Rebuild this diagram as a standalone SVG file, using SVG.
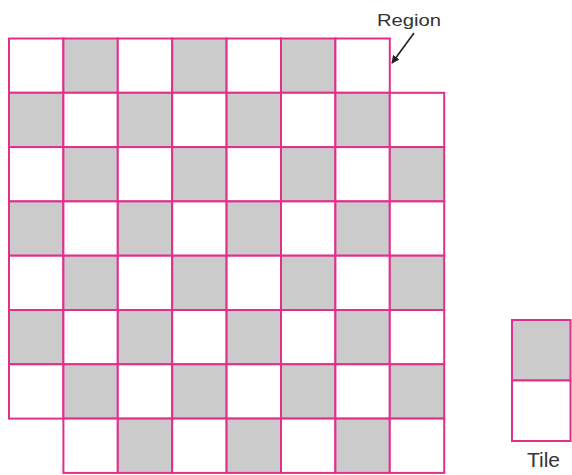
<svg xmlns="http://www.w3.org/2000/svg" width="572" height="475" viewBox="0 0 572 475">
<style>
.w{fill:#ffffff;stroke:#e0308c;stroke-width:2}
.g{fill:#cbcbcb;stroke:#e0308c;stroke-width:2}
.lbl{font-family:"Liberation Sans",Arial,sans-serif;fill:#333333}
</style>
<defs>
<marker id="ah" viewBox="0 0 10 10" refX="9" refY="5" markerWidth="8" markerHeight="8" orient="auto" markerUnits="userSpaceOnUse">
<path d="M0,0 L10,5 L0,10 z" fill="#222222"/>
</marker>
</defs>
<rect width="572" height="475" fill="#ffffff"/>
<g id="region">
<!-- row 0 -->
<rect class="w" x="9" y="38.5" width="54.4" height="54.3"/>
<rect class="g" x="63.4" y="38.5" width="54.4" height="54.3"/>
<rect class="w" x="117.8" y="38.5" width="54.4" height="54.3"/>
<rect class="g" x="172.2" y="38.5" width="54.4" height="54.3"/>
<rect class="w" x="226.6" y="38.5" width="54.4" height="54.3"/>
<rect class="g" x="281" y="38.5" width="54.4" height="54.3"/>
<rect class="w" x="335.4" y="38.5" width="54.4" height="54.3"/>
<!-- row 1 -->
<rect class="g" x="9" y="92.8" width="54.4" height="54.3"/>
<rect class="w" x="63.4" y="92.8" width="54.4" height="54.3"/>
<rect class="g" x="117.8" y="92.8" width="54.4" height="54.3"/>
<rect class="w" x="172.2" y="92.8" width="54.4" height="54.3"/>
<rect class="g" x="226.6" y="92.8" width="54.4" height="54.3"/>
<rect class="w" x="281" y="92.8" width="54.4" height="54.3"/>
<rect class="g" x="335.4" y="92.8" width="54.4" height="54.3"/>
<rect class="w" x="389.8" y="92.8" width="54.4" height="54.3"/>
<!-- row 2 -->
<rect class="w" x="9" y="147.1" width="54.4" height="54.3"/>
<rect class="g" x="63.4" y="147.1" width="54.4" height="54.3"/>
<rect class="w" x="117.8" y="147.1" width="54.4" height="54.3"/>
<rect class="g" x="172.2" y="147.1" width="54.4" height="54.3"/>
<rect class="w" x="226.6" y="147.1" width="54.4" height="54.3"/>
<rect class="g" x="281" y="147.1" width="54.4" height="54.3"/>
<rect class="w" x="335.4" y="147.1" width="54.4" height="54.3"/>
<rect class="g" x="389.8" y="147.1" width="54.4" height="54.3"/>
<!-- row 3 -->
<rect class="g" x="9" y="201.4" width="54.4" height="54.3"/>
<rect class="w" x="63.4" y="201.4" width="54.4" height="54.3"/>
<rect class="g" x="117.8" y="201.4" width="54.4" height="54.3"/>
<rect class="w" x="172.2" y="201.4" width="54.4" height="54.3"/>
<rect class="g" x="226.6" y="201.4" width="54.4" height="54.3"/>
<rect class="w" x="281" y="201.4" width="54.4" height="54.3"/>
<rect class="g" x="335.4" y="201.4" width="54.4" height="54.3"/>
<rect class="w" x="389.8" y="201.4" width="54.4" height="54.3"/>
<!-- row 4 -->
<rect class="w" x="9" y="255.7" width="54.4" height="54.3"/>
<rect class="g" x="63.4" y="255.7" width="54.4" height="54.3"/>
<rect class="w" x="117.8" y="255.7" width="54.4" height="54.3"/>
<rect class="g" x="172.2" y="255.7" width="54.4" height="54.3"/>
<rect class="w" x="226.6" y="255.7" width="54.4" height="54.3"/>
<rect class="g" x="281" y="255.7" width="54.4" height="54.3"/>
<rect class="w" x="335.4" y="255.7" width="54.4" height="54.3"/>
<rect class="g" x="389.8" y="255.7" width="54.4" height="54.3"/>
<!-- row 5 -->
<rect class="g" x="9" y="310" width="54.4" height="54.3"/>
<rect class="w" x="63.4" y="310" width="54.4" height="54.3"/>
<rect class="g" x="117.8" y="310" width="54.4" height="54.3"/>
<rect class="w" x="172.2" y="310" width="54.4" height="54.3"/>
<rect class="g" x="226.6" y="310" width="54.4" height="54.3"/>
<rect class="w" x="281" y="310" width="54.4" height="54.3"/>
<rect class="g" x="335.4" y="310" width="54.4" height="54.3"/>
<rect class="w" x="389.8" y="310" width="54.4" height="54.3"/>
<!-- row 6 -->
<rect class="w" x="9" y="364.3" width="54.4" height="54.3"/>
<rect class="g" x="63.4" y="364.3" width="54.4" height="54.3"/>
<rect class="w" x="117.8" y="364.3" width="54.4" height="54.3"/>
<rect class="g" x="172.2" y="364.3" width="54.4" height="54.3"/>
<rect class="w" x="226.6" y="364.3" width="54.4" height="54.3"/>
<rect class="g" x="281" y="364.3" width="54.4" height="54.3"/>
<rect class="w" x="335.4" y="364.3" width="54.4" height="54.3"/>
<rect class="g" x="389.8" y="364.3" width="54.4" height="54.3"/>
<!-- row 7 -->
<rect class="w" x="63.4" y="418.6" width="54.4" height="54.3"/>
<rect class="g" x="117.8" y="418.6" width="54.4" height="54.3"/>
<rect class="w" x="172.2" y="418.6" width="54.4" height="54.3"/>
<rect class="g" x="226.6" y="418.6" width="54.4" height="54.3"/>
<rect class="w" x="281" y="418.6" width="54.4" height="54.3"/>
<rect class="g" x="335.4" y="418.6" width="54.4" height="54.3"/>
<rect class="w" x="389.8" y="418.6" width="54.4" height="54.3"/>
</g>
<g id="tile">
<rect class="g" x="512" y="320" width="58.5" height="60.5"/>
<rect class="w" x="512" y="380.5" width="58.5" height="60.5"/>
</g>
<g id="region-label">
<text class="lbl" x="409" y="25.5" font-size="16" text-anchor="middle" textLength="64" lengthAdjust="spacingAndGlyphs">Region</text>
</g>
<g id="tile-label">
<text class="lbl" x="543.5" y="467" font-size="21" text-anchor="middle">Tile</text>
</g>
<g id="connectors">
<line x1="414" y1="33" x2="392" y2="63" stroke="#222222" stroke-width="1.6" marker-end="url(#ah)"/>
</g>
</svg>
